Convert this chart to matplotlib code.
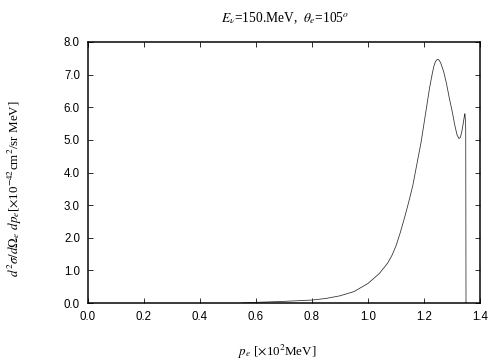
import numpy as np
import matplotlib
matplotlib.use("Agg")
import matplotlib.pyplot as plt

# electron momentum p_e [x10^2 MeV] and cross section [x10^-42 cm^2/sr MeV]
p_e = [0.55, 0.60, 0.70, 0.80, 0.85, 0.90, 0.95, 1.00, 1.04, 1.07, 1.085,
       1.10, 1.115, 1.13, 1.145, 1.16, 1.17, 1.18, 1.19, 1.20, 1.21, 1.22,
       1.23, 1.235, 1.24, 1.245, 1.25, 1.255, 1.26, 1.27, 1.28, 1.29, 1.30,
       1.31, 1.318, 1.325, 1.330, 1.335, 1.340, 1.344, 1.346, 1.348,
       1.349, 1.350, 1.352]
xsec = [0.0, 0.02, 0.05, 0.09, 0.14, 0.22, 0.35, 0.60, 0.90, 1.22, 1.45,
        1.75, 2.15, 2.60, 3.08, 3.60, 4.05, 4.50, 4.95, 5.50, 6.05, 6.60,
        7.05, 7.25, 7.38, 7.45, 7.47, 7.43, 7.35, 7.10, 6.74, 6.30, 5.90,
        5.45, 5.15, 5.04, 5.08, 5.25, 5.50, 5.72, 5.80, 5.60, 5.30, 0.0,
        0.0]

xticks = [0.0, 0.2, 0.4, 0.6, 0.8, 1.0, 1.2, 1.4]
yticks = [0.0, 1.0, 2.0, 3.0, 4.0, 5.0, 6.0, 7.0, 8.0]

plt.rcParams['mathtext.fontset'] = 'stix'
serif = ['Liberation Serif', 'DejaVu Serif']

fig = plt.figure(figsize=(7, 5), dpi=72)
ax = fig.add_axes([88 / 504, 57 / 360, 392 / 504, 261 / 360])

ax.plot(p_e, xsec, color='#333333', lw=0.8)

ax.set_xlim(0.0, 1.4)
ax.set_ylim(0.0, 8.0)
ax.set_xticks(xticks)
ax.set_yticks(yticks)
ax.set_xticklabels([f"{t:.1f}" for t in xticks], family='Liberation Sans', fontsize=11.5)
ax.set_yticklabels([f"{t:.1f}" for t in yticks], family='Liberation Sans', fontsize=11.5)
ax.tick_params(direction='in', length=5, width=0.8, top=True, right=True, pad=8)
for s in ax.spines.values():
    s.set_linewidth(1.5)

fig.text(285 / 504, 1 - 18 / 360, r"$E_\nu$=150.MeV,  $\theta_e$=105$^o$",
         ha='center', va='center', fontsize=13.5, family=serif)
fig.text(277 / 504, 1 - 352 / 360, r"$p_e$ [$\times$10$^2$MeV]",
         ha='center', va='center', fontsize=13, family=serif)
fig.text(15 / 504, 1 - 189 / 360,
         r"$d^2\sigma/d\Omega_e\ dp_e$[$\times$10$^{-42}$cm$^2$/sr MeV]",
         ha='center', va='center', rotation=90, fontsize=13, family=serif)

fig.savefig("out.png", dpi=72)
